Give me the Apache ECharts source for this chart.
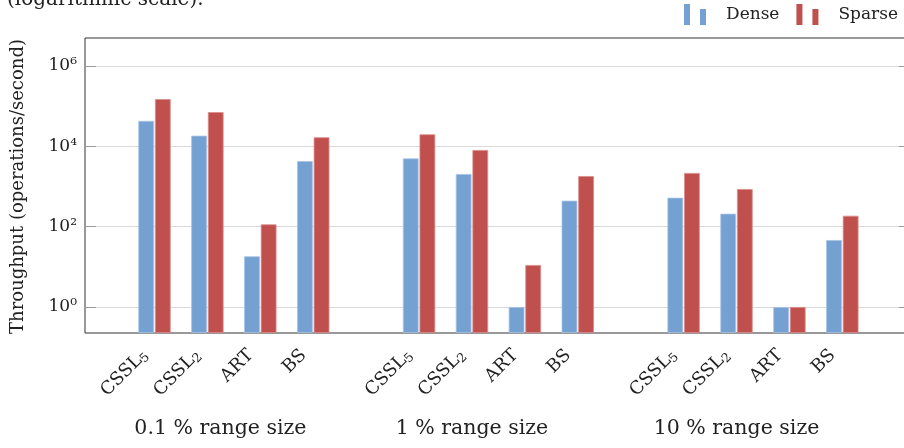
<!DOCTYPE html>
<html><head><meta charset="utf-8">
<script src="https://cdn.jsdelivr.net/npm/echarts@6/dist/echarts.min.js"></script>
<style>html,body{margin:0;padding:0;background:#fff}#c{width:904px;height:448px}</style>
</head><body><div id="c"></div>
<script>
// ---- data ----
const groups = ['0.1 % range size', '1 % range size', '10 % range size'];
const structures = ['CSSL₅', 'CSSL₂', 'ART', 'BS'];
const seriesNames = ['Dense', 'Sparse'];
const dense  = [43000, 18400, 18.3, 4300,   5000, 2050, 1.0, 443,   526, 210, 1.0, 46.5];
const sparse = [150000, 71000, 114, 16800,  19900, 8100, 11.1, 1820,  2170, 866, 1.0, 187];
const yTickValues = [1, 100, 10000, 1000000];
const yTickLabels = ['10⁰', '10²', '10⁴', '10⁶'];
const yName = 'Throughput (operations/second)';
const caption = '(logarithmic scale).';

// ---- build category slots (blank slot between groups) ----
const cats = [], dData = [], sData = [], groupLabelAt = {};
groups.forEach((g, gi) => {
  if (gi > 0) { cats.push(''); dData.push('-'); sData.push('-'); }
  groupLabelAt[cats.length + 1] = g;
  structures.forEach((s, si) => {
    cats.push(s);
    dData.push(dense[gi * structures.length + si]);
    sData.push(sparse[gi * structures.length + si]);
  });
});
const SUB = '₀₁₂₃₄₅₆₇₈₉';
function richLabel(s) {
  if (!s) return '';
  const m = s.match(/^(.*?)([₀-₉]+)$/);
  if (!m) return '{m|' + s + '}';
  const digits = m[2].split('').map(c => SUB.indexOf(c)).join('');
  return '{m|' + m[1] + '}{s|' + digits + '}';
}

// ---- layout ----
const FONT = 'DejaVu Serif';
const frameL = 85, frameT = 38, frameW = 825, frameH = 295;
const tickTop = 66, tickBottom = 307;           // 10^6 and 10^0 lines
const decade = (tickBottom - tickTop) / 6;
const minExp = -((frameT + frameH) - tickBottom) / decade;
const slotW = 52.91, firstCenter = 154.5;
const barsL = firstCenter - slotW / 2;

const blue = '#74a0d2', red = '#c0504d';
const legendIcon = 'path://M0,0h6v21h-6zM16,5h6v16h-6z';
const logAxisBase = {type: 'log', logBase: 100, min: yTickValues[0], max: yTickValues[yTickValues.length - 1], splitNumber: 3};

const chart = echarts.init(document.getElementById('c'), null, {renderer: 'canvas'});
chart.setOption({
  animation: false,
  backgroundColor: '#fff',
  title: {
    text: caption, left: 2, top: -15,
    textStyle: {fontFamily: FONT, fontSize: 20, fontWeight: 'normal', color: '#222'}
  },
  legend: {
    right: 1, top: -1, itemGap: 17, itemWidth: 22, itemHeight: 21,
    data: [{name: seriesNames[0], icon: legendIcon}, {name: seriesNames[1], icon: legendIcon}],
    itemStyle: {borderWidth: 0},
    textStyle: {fontFamily: FONT, fontSize: 17, color: '#222', padding: [8, 0, 0, 15]}
  },
  grid: [
    {left: frameL, top: frameT, width: frameW, height: frameH, show: true, outerBoundsMode: 'none',
     borderColor: '#333', borderWidth: 1, backgroundColor: 'transparent'},
    {left: frameL, top: tickTop, width: frameW, height: tickBottom - tickTop, outerBoundsMode: 'none'},
    {left: barsL, top: tickTop, width: slotW * cats.length, height: tickBottom - tickTop, outerBoundsMode: 'none'}
  ],
  xAxis: [
    {gridIndex: 0, type: 'value', min: 0, max: 1, show: false},
    {gridIndex: 1, type: 'value', min: 0, max: 1, show: false},
    {gridIndex: 2, type: 'category', data: cats, position: 'bottom', offset: frameT + frameH - tickBottom,
     axisLine: {show: false}, axisTick: {show: false},
     axisLabel: {interval: 0, rotate: 45, margin: 12, color: '#222', padding: [0, 12, 0, 0],
       formatter: v => richLabel(v),
       rich: {
         m: {fontFamily: FONT, fontSize: 18, color: '#222', lineHeight: 18, padding: [0, 0, 3, 0]},
         s: {fontFamily: FONT, fontSize: 12.5, color: '#222', lineHeight: 13, verticalAlign: 'bottom'}
       }}},
    {gridIndex: 2, type: 'category', data: cats, position: 'bottom', offset: frameT + frameH - tickBottom,
     axisLine: {show: false}, axisTick: {show: false},
     axisLabel: {interval: 0, margin: 85, fontFamily: FONT, fontSize: 20.5, color: '#222',
       formatter: (v, i) => groupLabelAt[i] ? (i === 1 ? '{a|' + groupLabelAt[i] + '}' : groupLabelAt[i]) : '',
       rich: {a: {fontFamily: FONT, fontSize: 20.5, color: '#222', padding: [0, 0, 0, 26]}}}}
  ],
  yAxis: [
    {gridIndex: 0, type: 'value', min: 0, max: 1, show: false},
    Object.assign({gridIndex: 1,
     name: yName, nameLocation: 'middle', nameGap: 58,
     nameTextStyle: {fontFamily: FONT, fontSize: 18, color: '#222'},
     axisLine: {show: false},
     axisTick: {inside: true, length: 11, lineStyle: {color: '#999'}},
     splitLine: {show: true, lineStyle: {color: '#d9d9d9', width: 1}},
     axisLabel: {margin: 8, fontFamily: FONT, fontSize: 17, color: '#222',
       formatter: v => { const k = yTickValues.findIndex(t => Math.abs(Math.log10(t) - Math.log10(v)) < 1e-6); return k >= 0 ? yTickLabels[k] : ''; }}}, logAxisBase),
    Object.assign({gridIndex: 1, position: 'right',
     axisLine: {show: false}, axisLabel: {show: false}, splitLine: {show: false},
     axisTick: {inside: true, length: 11, lineStyle: {color: '#999'}}}, logAxisBase),
    Object.assign({gridIndex: 2, startValue: Math.pow(10, minExp), show: false}, logAxisBase)
  ],
  series: [
    {name: seriesNames[0], type: 'bar', xAxisIndex: 2, yAxisIndex: 3, data: dData, clip: false,
     barWidth: 15.7, barGap: '6%',
     itemStyle: {color: blue, borderColor: '#a6c4e6', borderWidth: 0.8}},
    {name: seriesNames[1], type: 'bar', xAxisIndex: 2, yAxisIndex: 3, data: sData, clip: false,
     barWidth: 15.7, barGap: '6%',
     itemStyle: {color: red, borderColor: '#dc8c8a', borderWidth: 0.8}}
  ]
});
</script></body></html>
